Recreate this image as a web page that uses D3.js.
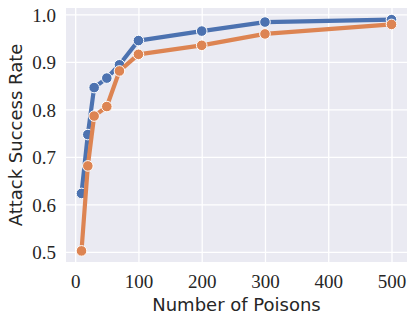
<!DOCTYPE html>
<html>
<head>
<meta charset="utf-8">
<script src="https://cdn.jsdelivr.net/npm/d3@7"></script>
<style>
  body { margin: 0; background: #fff; }
  .tick text { font-family: "Liberation Serif", serif; font-size: 19px; fill: #262626; }
  .lbl { font-family: "DejaVu Sans", sans-serif; font-size: 18px; fill: #262626; }
</style>
</head>
<body>
<svg class="chart"></svg>
<script>
var poisons = [10, 20, 30, 50, 70, 100, 200, 300, 500];
var rateBlue = [0.623, 0.747, 0.846, 0.866, 0.894, 0.945, 0.965, 0.984, 0.989];
var rateOrange = [0.502, 0.681, 0.786, 0.806, 0.881, 0.916, 0.935, 0.959, 0.979];
var xTicks = [0, 100, 200, 300, 400, 500];
var yTicks = [0.5, 0.6, 0.7, 0.8, 0.9, 1.0];

var margin = {top: 8, right: 8, bottom: 60, left: 66};
var width = 415 - margin.left - margin.right,
    height = 322 - margin.top - margin.bottom;

var x = d3.scaleLinear().domain([-14.5, 524.5]).range([0, width]);
var y = d3.scaleLinear().domain([0.4786, 1.0136]).range([height, 0]);

var svg = d3.select(".chart").attr("width", 415).attr("height", 322);
var chart = svg.append("g")
    .attr("transform", "translate(" + margin.left + "," + margin.top + ")");

chart.append("rect")
    .attr("width", width).attr("height", height)
    .attr("fill", "#eaeaf2");

// grid + axes
var xAxis = d3.axisBottom(x).tickValues(xTicks).tickSize(-height).tickPadding(10);
var yAxis = d3.axisLeft(y).tickValues(yTicks).tickSize(-width).tickPadding(10)
    .tickFormat(d3.format(".1f"));

function styleAxis(g) {
    g.select(".domain").remove();
    g.selectAll(".tick line").attr("stroke", "#fff").attr("stroke-width", 1.3);
}

chart.append("g").attr("transform", "translate(0," + height + ")")
    .call(xAxis).call(styleAxis)
    .selectAll(".tick text").attr("dy", "0.85em");
chart.append("g").call(yAxis).call(styleAxis)
    .selectAll(".tick text").attr("dy", "0.36em");

var series = [
    {vals: rateBlue, color: "#4c72b0"},
    {vals: rateOrange, color: "#dd8452"}
];

var line = d3.line()
    .x(function(d) { return x(d[0]); })
    .y(function(d) { return y(d[1]); });

series.forEach(function(s) {
    var pts = poisons.map(function(p, i) { return [p, s.vals[i]]; });
    chart.append("path")
        .datum(pts)
        .attr("fill", "none")
        .attr("stroke", s.color)
        .attr("stroke-width", 4.2)
        .attr("stroke-linejoin", "round")
        .attr("d", line);
    chart.append("g").selectAll("circle")
        .data(pts)
        .enter().append("circle")
        .attr("cx", function(d) { return x(d[0]); })
        .attr("cy", function(d) { return y(d[1]); })
        .attr("r", 5.3)
        .attr("fill", s.color)
        .attr("stroke", "#fff")
        .attr("stroke-width", 1);
});

// labels
svg.append("text").attr("class", "lbl")
    .attr("x", margin.left + width / 2).attr("y", 311)
    .attr("text-anchor", "middle")
    .text("Number of Poisons");

svg.append("text").attr("class", "lbl")
    .attr("transform", "translate(22," + (margin.top + height / 2) + ") rotate(-90)")
    .attr("text-anchor", "middle")
    .text("Attack Success Rate");
</script>
</body>
</html>
